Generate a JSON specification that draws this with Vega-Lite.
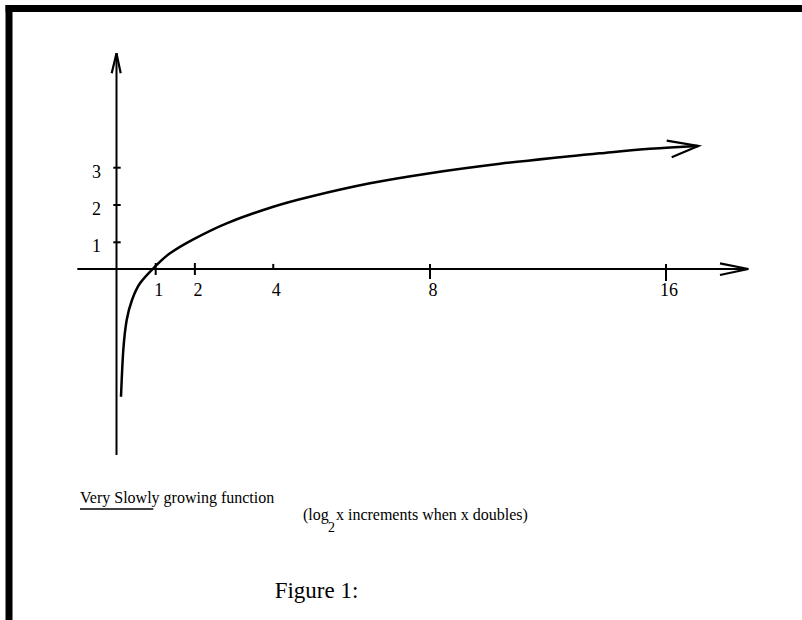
{
  "$schema": "https://vega.github.io/schema/vega-lite/v6.json",
  "width": 802,
  "height": 620,
  "padding": 0,
  "autosize": {"type": "none"},
  "background": "white",
  "config": {"view": {"stroke": null}},
  "encoding": {
    "x": {"field": "x", "type": "quantitative", "axis": null,
          "scale": {"domain": [0, 8, 16], "range": [116.5, 430, 666], "zero": false, "nice": false}},
    "y": {"field": "y", "type": "quantitative", "axis": null,
          "scale": {"domain": [0, 1, 3], "range": [269, 242.3, 167.7], "zero": false, "nice": false}}
  },
  "layer": [
    {
      "data": {"values": [
        {"part": "left", "x": -2.743, "x2": -2.743, "y": -14, "y2": 7.36},
        {"part": "top", "x": -2.83, "x2": 21, "y": 7.268, "y2": 7.268}
      ]},
      "mark": {"type": "rule", "color": "black", "strokeWidth": 7},
      "encoding": {"x2": {"field": "x2"}, "y2": {"field": "y2"}}
    },
    {
      "data": {"values": [
        {"axis": "x", "x": -1.0, "x2": 18.79, "y": 0, "y2": 0},
        {"axis": "y", "x": 0, "x2": 0, "y": -6.97, "y2": 6.067}
      ]},
      "mark": {"type": "rule", "color": "black", "strokeWidth": 2},
      "encoding": {"x2": {"field": "x2"}, "y2": {"field": "y2"}}
    },
    {
      "data": {"values": [
        {"x": 1, "x2": 1, "y": 0.225, "y2": -0.225},
        {"x": 2, "x2": 2, "y": 0.225, "y2": -0.225},
        {"x": 4, "x2": 4, "y": 0.19, "y2": 0},
        {"x": 8, "x2": 8, "y": 0.19, "y2": -0.375},
        {"x": 16, "x2": 16, "y": 0.19, "y2": -0.45},
        {"x": -0.082, "x2": 0.107, "y": 1, "y2": 1},
        {"x": -0.082, "x2": 0.107, "y": 2, "y2": 2},
        {"x": -0.082, "x2": 0.107, "y": 3, "y2": 3}
      ]},
      "mark": {"type": "rule", "color": "black", "strokeWidth": 2},
      "encoding": {"x2": {"field": "x2"}, "y2": {"field": "y2"}}
    },
    {
      "data": {"values": [
        {"g": "xaxis", "i": 0, "x": 17.83, "y": 0.2135},
        {"g": "xaxis", "i": 1, "x": 18.79, "y": 0},
        {"g": "xaxis", "i": 2, "x": 17.83, "y": -0.2247},
        {"g": "yaxis", "i": 0, "x": -0.1225, "y": 5.53},
        {"g": "yaxis", "i": 1, "x": 0, "y": 6.067},
        {"g": "yaxis", "i": 2, "x": 0.107, "y": 5.53},
        {"g": "curve", "i": 0, "x": 16.024, "y": 3.724},
        {"g": "curve", "i": 1, "x": 17.095, "y": 3.582},
        {"g": "curve", "i": 2, "x": 16.193, "y": 3.279}
      ]},
      "mark": {"type": "line", "color": "black", "strokeWidth": 2.2},
      "encoding": {
        "detail": {"field": "g", "type": "nominal"},
        "order": {"field": "i", "type": "quantitative"}
      }
    },
    {
      "data": {"values": [
        {"x": 0.115, "y": -4.783},
        {"x": 0.1735, "y": -3.034},
        {"x": 0.26, "y": -1.91},
        {"x": 0.3955, "y": -1.161},
        {"x": 0.5996, "y": -0.536},
        {"x": 0.9824, "y": 0.086},
        {"x": 1.365, "y": 0.588},
        {"x": 1.96, "y": 1.08},
        {"x": 2.812, "y": 1.509},
        {"x": 4.001, "y": 1.954},
        {"x": 4.937, "y": 2.223},
        {"x": 6.469, "y": 2.582},
        {"x": 8.0, "y": 2.853},
        {"x": 10.373, "y": 3.105},
        {"x": 12.407, "y": 3.282},
        {"x": 13.763, "y": 3.386},
        {"x": 15.458, "y": 3.507},
        {"x": 17.095, "y": 3.582}
      ]},
      "mark": {"type": "line", "color": "black", "strokeWidth": 2.5, "interpolate": "cardinal"},
      "encoding": {}
    },
    {
      "data": {"values": [
        {"x": 1, "y": 0, "label": "1"},
        {"x": 2, "y": 0, "label": "2"},
        {"x": 4, "y": 0, "label": "4"},
        {"x": 8, "y": 0, "label": "8"},
        {"x": 16, "y": 0, "label": "16"}
      ]},
      "mark": {"type": "text", "font": "Liberation Serif", "fontSize": 18, "color": "black",
               "align": "center", "baseline": "alphabetic", "dx": 3, "dy": 27},
      "encoding": {"text": {"field": "label"}}
    },
    {
      "data": {"values": [
        {"x": 0, "y": 1, "label": "1"},
        {"x": 0, "y": 2, "label": "2"},
        {"x": 0, "y": 3, "label": "3"}
      ]},
      "mark": {"type": "text", "font": "Liberation Serif", "fontSize": 18, "color": "black",
               "align": "center", "baseline": "alphabetic", "dx": -20, "dy": 10},
      "encoding": {"text": {"field": "label"}}
    },
    {
      "data": {"values": [
        {"x": -0.931, "y": -8.775, "label": "Very Slowly growing function"},
        {"x": 4.76, "y": -9.401, "label": "(log"},
        {"x": 5.6, "y": -9.401, "label": "x increments when x doubles)"}
      ]},
      "mark": {"type": "text", "font": "Liberation Serif", "fontSize": 16, "color": "black",
               "align": "left", "baseline": "alphabetic"},
      "encoding": {"text": {"field": "label"}}
    },
    {
      "data": {"values": [
        {"x": 5.4, "y": -9.85, "label": "2"}
      ]},
      "mark": {"type": "text", "font": "Liberation Serif", "fontSize": 14, "color": "black",
               "align": "left", "baseline": "alphabetic"},
      "encoding": {"text": {"field": "label"}}
    },
    {
      "data": {"values": [
        {"x": -0.931, "x2": 0.939, "y": -8.989, "y2": -8.989}
      ]},
      "mark": {"type": "rule", "color": "black", "strokeWidth": 1.5},
      "encoding": {"x2": {"field": "x2"}, "y2": {"field": "y2"}}
    },
    {
      "data": {"values": [
        {"x": 5.103, "y": -12.322, "label": "Figure 1:"}
      ]},
      "mark": {"type": "text", "font": "Liberation Serif", "fontSize": 23, "color": "black",
               "align": "center", "baseline": "alphabetic"},
      "encoding": {"text": {"field": "label"}}
    }
  ]
}
